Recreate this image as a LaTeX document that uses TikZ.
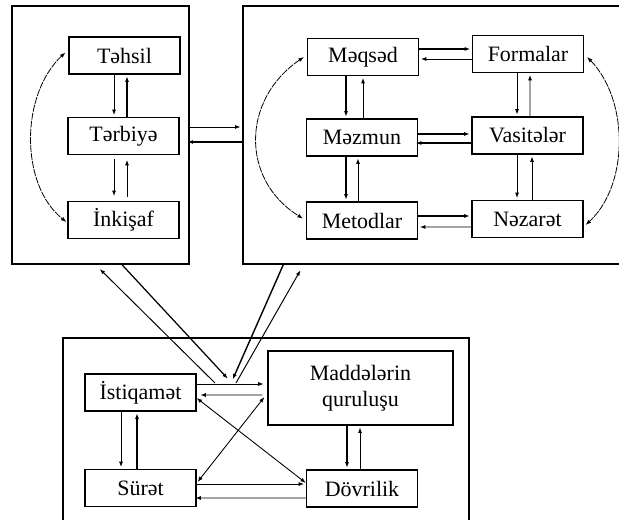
\documentclass[tikz,border=0pt]{standalone}
\usepackage{fontspec}
\setmainfont{Liberation Serif}
\usetikzlibrary{arrows.meta,calc}
\tikzset{
	blk/.style={draw,line width=0.7pt,minimum width=2.22cm,minimum height=0.74cm,inner sep=0pt,font=\fontsize{12.5}{15}\selectfont},
	frm/.style={draw,line width=0.85pt,inner sep=0pt},
	thn/.style={line width=0.55pt,-{Latex[length=1.1mm,width=0.8mm]},shorten >=1pt},
	thk/.style={line width=1.1pt,-{Latex[length=1.1mm,width=0.8mm]},shorten >=1pt},
	dbl/.style={line width=0.5pt,{Latex[length=1.1mm,width=0.8mm]}-{Latex[length=1.1mm,width=0.8mm]}},
	bnd/.style={dbl,line width=0.45pt,dash pattern=on 4pt off 0.6pt}
}
\begin{document}
\begin{tikzpicture}[x=0.02cm,y=-0.02cm]
		\useasboundingbox (0,0) rectangle (619,520);
		\node[frm,minimum width=3.54cm,minimum height=5.16cm] (lfr) at (100.5,135) {};
		\node[frm,minimum width=7.74cm,minimum height=5.16cm] (rfr) at (436.5,135) {};
		\node[frm,minimum width=8.12cm,minimum height=4.04cm] (bfr) at (266,439) {};
		\node[blk] (tehsil) at (124.5,55.5) {Təhsil};
		\node[blk] (terbiye) at (123.5,136) {Tərbiyə};
		\node[blk] (inkisaf) at (123.5,220) {İnkişaf};
		\node[blk] (meqsed) at (363,57) {Məqsəd};
		\node[blk] (mezmun) at (362,137.5) {Məzmun};
		\node[blk] (metodlar) at (362,220.5) {Metodlar};
		\node[blk] (formalar) at (528,54) {Formalar};
		\node[blk] (vasiteler) at (527.5,135.5) {Vasitələr};
		\node[blk] (nezaret) at (527.5,219) {Nəzarət};
		\node[blk] (istiqamet) at (140.5,392.5) {İstiqamət};
		\node[blk] (suret) at (140.5,488) {Sürət};
		\node[blk,minimum width=3.7cm,minimum height=1.48cm,align=center] (madde) at (360.5,388) {Maddələrin\\quruluşu};
		\node[blk] (dovrilik) at (362,488.5) {Dövrilik};
		\coordinate (ja) at (215,383);
		\coordinate (jb) at (229,380);
		\coordinate (jc) at (232,381);
		\coordinate (jd) at (236,383);
		\draw[thn] ($(tehsil.south)+(-10.5,0)$) -- ($(terbiye.north)+(-9.5,0)$);
		\draw[thk] ($(terbiye.north)+(3.5,0)$) -- ($(tehsil.south)+(2.5,0)$);
		\draw[thn] ($(terbiye.south)+(-9.5,4)$) -- ($(inkisaf.north)+(-9.5,-3)$);
		\draw[thn] ($(inkisaf.north)+(3.5,-4)$) -- ($(terbiye.south)+(3.5,3)$);
		\draw[bnd] ($(tehsil.west)+(-3,-3)$) .. controls (20,95) and (20,185) .. ($(inkisaf.west)+(-1,2)$);
		\draw[thn] ($(lfr.east)+(0,-8)$) -- ($(rfr.west)+(0,-8)$);
		\draw[thk] ($(rfr.west)+(0,7)$) -- ($(lfr.east)+(-4,7)$);
		\draw[thk] ($(meqsed.east)+(0,-8)$) -- ($(formalar.west)+(0,-5)$);
		\draw[thn] ($(formalar.west)+(0,5)$) -- ($(meqsed.east)+(0,2)$);
		\draw[thk] ($(meqsed.south)+(-17,0)$) -- ($(mezmun.north)+(-16,0)$);
		\draw[thn] ($(mezmun.north)+(1,0)$) -- ($(meqsed.south)+(0,0)$);
		\draw[thn] ($(formalar.south)+(-11,0)$) -- ($(vasiteler.north)+(-10.5,0)$);
		\draw[thn] ($(vasiteler.north)+(2.5,0)$) -- ($(formalar.south)+(2,0)$);
		\draw[thk] ($(mezmun.east)+(0,-3.5)$) -- ($(vasiteler.west)+(0,-1.5)$);
		\draw[thn,line width=0.8pt] ($(vasiteler.west)+(0,7.5)$) -- ($(mezmun.east)+(-4,5.5)$);
		\draw[thk] ($(mezmun.south)+(-16,0)$) -- ($(metodlar.north)+(-16,0)$);
		\draw[thn] ($(metodlar.north)+(-4,0)$) -- ($(mezmun.south)+(-4,0)$);
		\draw[thn] ($(vasiteler.south)+(-10.5,0)$) -- ($(nezaret.north)+(-10.5,0)$);
		\draw[thn] ($(nezaret.north)+(4.5,0)$) -- ($(vasiteler.south)+(4.5,0)$);
		\draw[thk] ($(metodlar.east)+(0,-4.5)$) -- ($(nezaret.west)+(0,-3)$);
		\draw[thn] ($(nezaret.west)+(0,8)$) -- ($(metodlar.east)+(0,6.5)$);
		\draw[bnd] ($(meqsed.west)+(-3,0)$) .. controls (241,100) and (241,180) .. ($(metodlar.west)+(-3,-2)$);
		\draw[bnd] ($(formalar.east)+(3,3)$) .. controls (629,100) and (629,185) .. ($(nezaret.east)+(2,6)$);
		\draw[thn] (ja) -- ($(lfr.south)+(-2,3)$);
		\draw[thn,line width=0.7pt] ($(lfr.south)+(21.5,0)$) -- (jb);
		\draw[thk,line width=0.8pt] ($(rfr.south west)+(41,0)$) -- (jc);
		\draw[thn] (jd) -- ($(rfr.south west)+(59,4)$);
		\draw[thn] ($(istiqamet.east)+(0,-8.5)$) -- ($(madde.west)+(-2,-4)$);
		\draw[thn] ($(madde.west)+(-5,7)$) -- ($(istiqamet.east)+(2,2.5)$);
		\draw[thn] ($(istiqamet.south)+(-19.5,0)$) -- ($(suret.north)+(-19.5,0)$);
		\draw[thk] ($(suret.north)+(-3.5,0)$) -- ($(istiqamet.south)+(-3.5,0)$);
		\draw[thk] ($(madde.south)+(-13.5,0)$) -- ($(dovrilik.north)+(-15,0)$);
		\draw[thn] ($(dovrilik.north)+(-2,0)$) -- ($(madde.south)+(-0.5,0)$);
		\draw[thn] ($(suret.east)+(0,-4)$) -- ($(dovrilik.west)+(0,-4.5)$);
		\draw[thn] ($(dovrilik.west)+(0,9.5)$) -- ($(suret.east)+(-3,10)$);
		\draw[dbl] ($(istiqamet.east)+(0,5.5)$) -- ($(dovrilik.west)+(0,-5.5)$);
		\draw[dbl] ($(madde.west)+(-3,9)$) -- ($(suret.east)+(1,-6)$);
	\end{tikzpicture}
\end{document}
